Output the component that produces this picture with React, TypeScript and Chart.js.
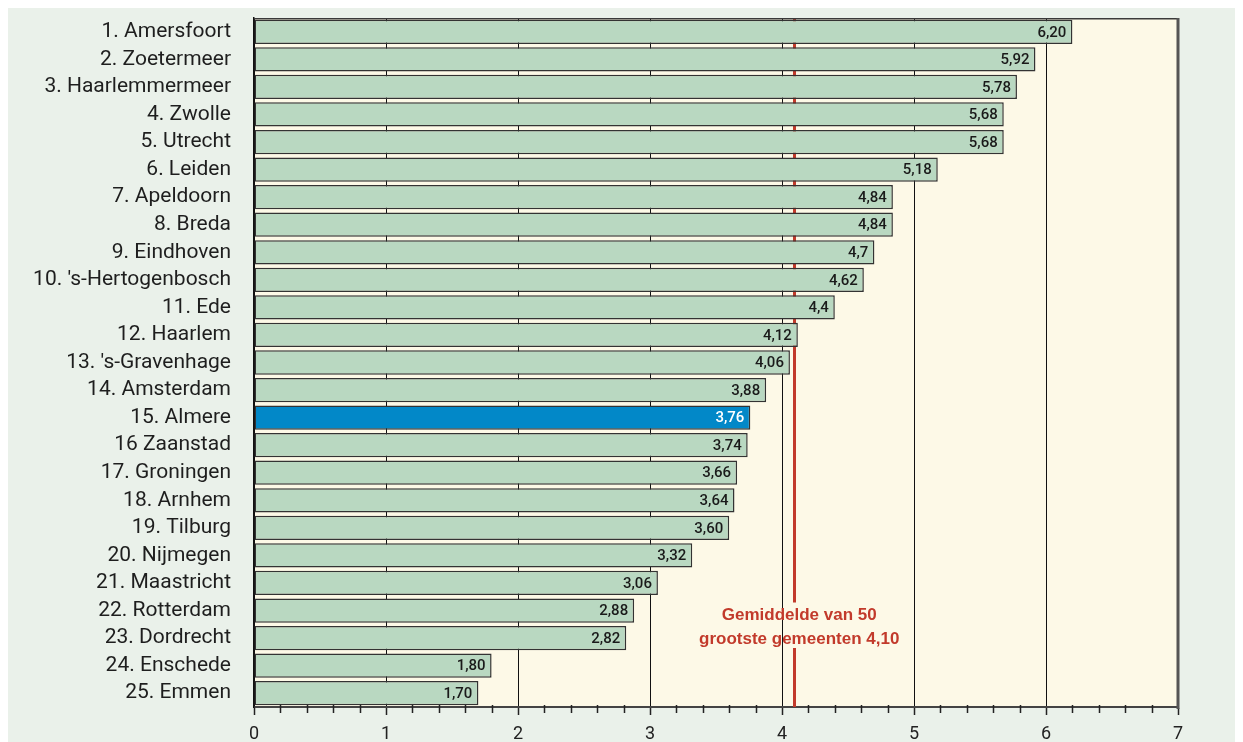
import React, { useEffect, useRef } from "react";
import { Chart, registerables } from "chart.js";

Chart.register(...registerables);

const categories: string[] = [
  "1. Amersfoort",
  "2. Zoetermeer",
  "3. Haarlemmermeer",
  "4. Zwolle",
  "5. Utrecht",
  "6. Leiden",
  "7. Apeldoorn",
  "8. Breda",
  "9. Eindhoven",
  "10. 's-Hertogenbosch",
  "11. Ede",
  "12. Haarlem",
  "13. 's-Gravenhage",
  "14. Amsterdam",
  "15. Almere",
  "16 Zaanstad",
  "17. Groningen",
  "18. Arnhem",
  "19. Tilburg",
  "20. Nijmegen",
  "21. Maastricht",
  "22. Rotterdam",
  "23. Dordrecht",
  "24. Enschede",
  "25. Emmen",
];

const values: number[] = [
  6.2, 5.92, 5.78, 5.68, 5.68, 5.18, 4.84, 4.84, 4.7, 4.62, 4.4, 4.12, 4.06,
  3.88, 3.76, 3.74, 3.66, 3.64, 3.6, 3.32, 3.06, 2.88, 2.82, 1.8, 1.7,
];

const valueLabels: string[] = [
  "6,20", "5,92", "5,78", "5,68", "5,68", "5,18", "4,84", "4,84", "4,7",
  "4,62", "4,4", "4,12", "4,06", "3,88", "3,76", "3,74", "3,66", "3,64",
  "3,60", "3,32", "3,06", "2,88", "2,82", "1,80", "1,70",
];

const highlightIndex = 14;
const averageValue = 4.1;
const averageLabel: string[] = ["Gemiddelde van 50", "grootste gemeenten 4,10"];
const xTicks: number[] = [0, 1, 2, 3, 4, 5, 6, 7];

const OUTER_BG = "#eaf1ea";
const PLOT_BG = "#fdf9e7";
const BAR_GREEN = "#b9d8c1";
const BAR_BLUE = "#0288c8";
const RED = "#c23a2b";
const FONT = "Roboto, 'DejaVu Sans', sans-serif";

const CANVAS_W = 1235;
const CANVAS_H = 734;
const AREA_LEFT = 246;
const AREA_RIGHT = 1170;
const AREA_TOP = 10;
const AREA_BOTTOM = 699;

export default function App() {
  const ref = useRef<HTMLCanvasElement | null>(null);

  useEffect(() => {
    document.body.style.overflow = "hidden";
    const canvas = ref.current;
    if (!canvas) return;

    const decorPlugin = {
      id: "decor",
      beforeDraw(chart: any) {
        const { ctx, chartArea } = chart;
        ctx.save();
        ctx.fillStyle = OUTER_BG;
        ctx.fillRect(0, 0, chart.width, chart.height);
        ctx.fillStyle = PLOT_BG;
        ctx.fillRect(
          chartArea.left,
          chartArea.top,
          chartArea.right - chartArea.left,
          chartArea.bottom - chartArea.top
        );
        ctx.restore();
      },
      beforeDatasetsDraw(chart: any) {
        const { ctx, chartArea } = chart;
        const xs = chart.scales.x;
        const ys = chart.scales.y;
        const ax = Math.round(xs.getPixelForValue(averageValue)) - 0.5;
        const gapTop = ys.getPixelForValue(21) - 8;
        const gapBottom = ys.getPixelForValue(22) + 10;
        ctx.save();
        ctx.strokeStyle = RED;
        ctx.lineWidth = 3;
        ctx.beginPath();
        ctx.moveTo(ax, chartArea.top);
        ctx.lineTo(ax, gapTop);
        ctx.moveTo(ax, gapBottom);
        ctx.lineTo(ax, chartArea.bottom);
        ctx.stroke();
        ctx.restore();
      },
      afterDatasetsDraw(chart: any) {
        const { ctx, chartArea } = chart;
        const xs = chart.scales.x;
        const ys = chart.scales.y;
        ctx.save();
        // value labels
        ctx.font = `500 15px ${FONT}`;
        ctx.textAlign = "right";
        ctx.textBaseline = "middle";
        values.forEach((v, i) => {
          const x = xs.getPixelForValue(v) - 6;
          const y = ys.getPixelForValue(i) + 1;
          ctx.fillStyle = i === highlightIndex ? "#ffffff" : "#1a1a1a";
          ctx.fillText(valueLabels[i], x, y);
        });
        // average annotation
        ctx.font = `bold 17px 'Liberation Sans', Arial, sans-serif`;
        ctx.textAlign = "center";
        ctx.fillStyle = RED;
        const cx = xs.getPixelForValue(averageValue) + 4;
        ctx.fillText(averageLabel[0], cx, ys.getPixelForValue(21) + 5);
        ctx.fillText(averageLabel[1], cx, ys.getPixelForValue(22) + 1);
        // top border
        ctx.strokeStyle = "#3a3a3a";
        ctx.lineWidth = 1.5;
        ctx.beginPath();
        ctx.moveTo(chartArea.left, chartArea.top + 0.75);
        ctx.lineTo(chartArea.right, chartArea.top + 0.75);
        ctx.stroke();
        // right border
        ctx.strokeStyle = "#555555";
        ctx.lineWidth = 3;
        ctx.beginPath();
        ctx.moveTo(chartArea.right, chartArea.top);
        ctx.lineTo(chartArea.right, chartArea.bottom + 2);
        ctx.stroke();
        // minor ticks
        ctx.strokeStyle = "#222222";
        ctx.lineWidth = 1.5;
        ctx.beginPath();
        for (let k = 0; k <= 35; k++) {
          if (k % 5 === 0) continue;
          const px = Math.round(xs.getPixelForValue(k * 0.2)) + 0.5;
          ctx.moveTo(px, chartArea.bottom - 2);
          ctx.lineTo(px, chartArea.bottom + 6);
        }
        ctx.stroke();
        ctx.restore();
      },
    };

    const chart = new Chart(canvas, {
      type: "bar",
      data: {
        labels: categories,
        datasets: [
          {
            data: values,
            backgroundColor: values.map((_, i) =>
              i === highlightIndex ? BAR_BLUE : BAR_GREEN
            ),
            borderColor: "#333333",
            borderWidth: 1.5,
            borderSkipped: false,
            barPercentage: 0.88,
            categoryPercentage: 1,
          },
        ],
      },
      options: {
        indexAxis: "y",
        animation: false,
        responsive: false,
        maintainAspectRatio: false,
        layout: {
          padding: {
            left: 0,
            top: AREA_TOP,
            right: CANVAS_W - AREA_RIGHT,
            bottom: 0,
          },
        },
        plugins: {
          legend: { display: false },
          tooltip: { enabled: false },
          title: { display: false },
        },
        scales: {
          x: {
            type: "linear",
            min: 0,
            max: 7,
            afterBuildTicks(scale: any) {
              scale.ticks = xTicks.map((v) => ({ value: v }));
            },
            afterFit(scale: any) {
              scale.height = CANVAS_H - AREA_BOTTOM;
              scale.paddingLeft = 0;
              scale.paddingRight = 0;
            },
            grid: {
              display: true,
              drawOnChartArea: true,
              drawTicks: true,
              tickLength: 8,
              color: "#111111",
              lineWidth: 1,
              tickColor: "#222222",
              tickWidth: 1.5,
            },
            border: { display: true, color: "#444444", width: 2 },
            ticks: {
              font: { family: FONT, size: 18 },
              color: "#222222",
              padding: 9,
              callback: (v: any) => String(v),
            },
          },
          y: {
            type: "category",
            afterFit(scale: any) {
              scale.width = AREA_LEFT;
              scale.paddingTop = 0;
              scale.paddingBottom = 0;
            },
            grid: { display: false, drawTicks: false },
            border: { display: true, color: "#111111", width: 1.5 },
            ticks: {
              font: { family: FONT, size: 21 },
              color: "#1e1e1e",
              padding: 23,
              autoSkip: false,
            },
          },
        },
      },
      plugins: [decorPlugin],
    } as any);

    return () => {
      chart.destroy();
    };
  }, []);

  return (
    <canvas
      ref={ref}
      width={CANVAS_W}
      height={CANVAS_H}
      style={{ display: "block", width: CANVAS_W, height: CANVAS_H }}
    />
  );
}
